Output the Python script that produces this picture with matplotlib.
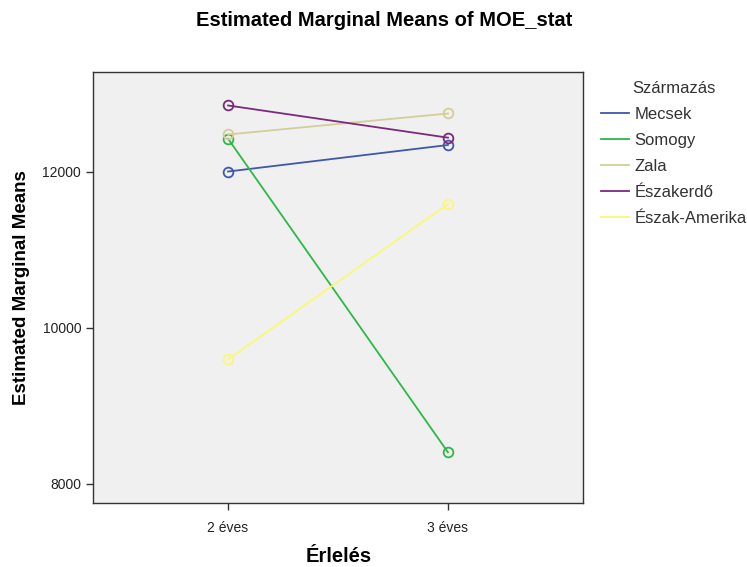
import matplotlib
matplotlib.use("Agg")
import matplotlib.pyplot as plt
from matplotlib.lines import Line2D

plt.rcParams['font.family'] = ['Liberation Sans', 'DejaVu Sans']

categories = ["2 éves", "3 éves"]
series_names = ["Mecsek", "Somogy", "Zala", "Északerdő", "Észak-Amerika"]
mecsek = [12006, 12346]
somogy = [12427, 8406]
zala = [12481, 12750]
eszakerdo = [12853, 12440]
eszak_amerika = [9596, 11590]
colors = ["#3E58AC", "#2EB848", "#D3CE97", "#7C287D", "#FBF873"]
yticks = [8000, 10000, 12000]

values = [mecsek, somogy, zala, eszakerdo, eszak_amerika]

W, H = 747, 567
fig = plt.figure(figsize=(W / 100, H / 100), dpi=100)
ax = fig.add_axes([93 / W, 1 - 503 / H, (583 - 93) / W, (503 - 72) / H])
ax.set_facecolor("#F0F0F0")

x = list(range(len(categories)))
for name, vals, c in zip(series_names, values, colors):
    ax.plot(x, vals, color=c, lw=1.3, marker="o", markersize=7,
            markerfacecolor="none", markeredgecolor=c, markeredgewidth=1.3)

ax.set_xlim(-0.614, 1.614)
ax.set_ylim(7756, 13282)
ax.set_xticks(x)
ax.set_xticklabels(categories, fontsize=10, color="#222222")
ax.set_yticks(yticks)
ax.set_yticklabels([str(v) for v in yticks], fontsize=10, color="#222222")
ax.tick_params(axis="both", length=5, width=1, color="#333333")
ax.tick_params(axis="x", pad=8)
for sp in ax.spines.values():
    sp.set_color("#333333")
    sp.set_linewidth(1)

ax.set_xlabel("Érlelés", fontsize=14.5, fontweight="bold")
ax.xaxis.set_label_coords((339 - 93) / 490, (503 - 556) / 431)
ax.xaxis.label.set_va("center")
ax.set_ylabel("Estimated Marginal Means", fontsize=13.5, fontweight="bold")
ax.yaxis.set_label_coords((22 - 93) / 490, 0.5)
ax.yaxis.label.set_va("center")
ax.yaxis.label.set_ha("center")
fig.text(384 / W, 1 - 20 / H, "Estimated Marginal Means of MOE_stat",
         ha="center", va="center", fontsize=14.5, fontweight="bold")

handles = [Line2D([0], [0], color=c, lw=1.3) for c in colors]
leg = fig.legend(handles, series_names, title="Származás",
                 loc="upper left", bbox_to_anchor=(601 / W, 1 - 81 / H),
                 frameon=False, fontsize=12, title_fontsize=12,
                 handlelength=1.7, handletextpad=0.3, labelspacing=0.66,
                 borderaxespad=0, borderpad=0)
for t in leg.get_texts():
    t.set_color("#333333")
leg.get_title().set_color("#333333")

fig.savefig("out.png", dpi=100, facecolor="white")
